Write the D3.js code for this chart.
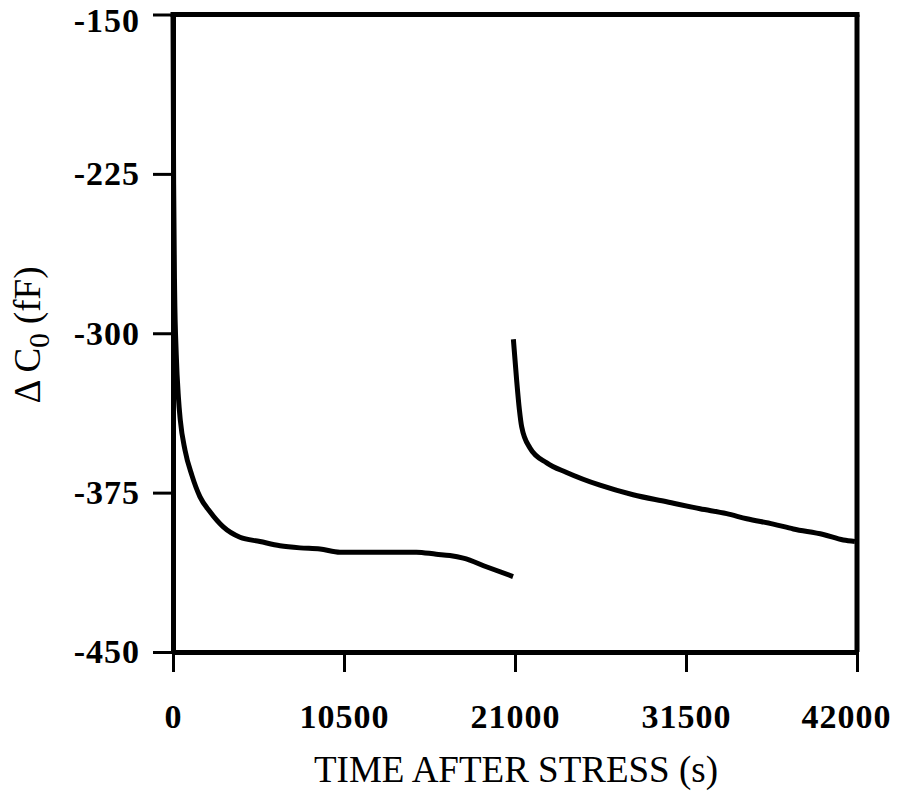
<!DOCTYPE html>
<html>
<head>
<meta charset="utf-8">
<script src="https://cdn.jsdelivr.net/npm/d3@7"></script>
<style>
  body { margin: 0; background: #fff; }
  svg { display: block; }
</style>
</head>
<body>
<script>
// donnees
var xTicks = [0, 10500, 21000, 31500, 42000];
var yTicks = [-150, -225, -300, -375, -450];

// premiere courbe (0 -> 21000 s)
var curve1 = [
  [0, -150], [40, -230], [100, -280], [200, -310], [330, -330], [450, -341],
  [737, -355], [1166, -367], [1658, -377], [2272, -384], [3070, -391],
  [4114, -396], [5342, -398], [6570, -400], [7798, -401], [9026, -401.5],
  [10254, -403], [11482, -403], [14940, -403], [16168, -404], [17000, -404.6],
  [17826, -405.8], [19280, -410], [20880, -414.5]
];

// deuxieme courbe (21000 -> 42000 s)
var curve2 = [
  [20900, -302.8], [21100, -322], [21270, -336], [21410, -344], [21920, -354],
  [22950, -361], [24170, -365.5], [26220, -371.5], [28250, -376],
  [30310, -379.3], [32360, -382.6], [34000, -384.9],
  [35230, -387.3], [36860, -389.8], [38090, -392.1], [39930, -394.7],
  [41160, -397.3], [41870, -398]
];

var W = 909, H = 791;
var margin = {top: 14.5, left: 173, right: 909 - 857, bottom: 791 - 652};
var width = W - margin.left - margin.right,
    height = H - margin.top - margin.bottom;

var svg = d3.select("body").append("svg")
    .attr("width", W)
    .attr("height", H);

var g = svg.append("g")
    .attr("transform", "translate(" + margin.left + "," + margin.top + ")");

var x = d3.scaleLinear().domain([0, 42000]).range([0, width]);
var y = d3.scaleLinear().domain([-450, -150]).range([height, 0]);

var serif = "'Liberation Serif', 'Times New Roman', Times, serif";

// courbes
var line = d3.line()
    .x(function(d) { return x(d[0]); })
    .y(function(d) { return y(d[1]); })
    .curve(d3.curveMonotoneX);

[curve1, curve2].forEach(function(c) {
  g.append("path")
      .datum(c)
      .attr("fill", "none")
      .attr("stroke", "#000")
      .attr("stroke-width", 5)
      .attr("stroke-linecap", "butt")
      .attr("d", line);
});

// axes (tiret simple comme sur la figure)
var fmt = function(d) { return String(d); };

var xAxis = g.append("g")
    .attr("transform", "translate(0," + height + ")")
    .call(d3.axisBottom(x).tickValues(xTicks).tickSize(20).tickSizeOuter(0).tickPadding(32).tickFormat(fmt));

var yAxis = g.append("g")
    .call(d3.axisLeft(y).tickValues(yTicks).tickSize(20).tickSizeOuter(0).tickPadding(13).tickFormat(fmt));

[xAxis, yAxis].forEach(function(a) {
  a.select(".domain").attr("stroke-width", 5);
  a.selectAll(".tick line").attr("stroke-width", 3);
  a.selectAll("text")
      .style("font-family", serif)
      .style("font-weight", "bold")
      .style("font-size", "34px")
      .style("letter-spacing", "1px")
      .attr("fill", "#000");
});

// dernier label decale comme sur la figure
xAxis.selectAll(".tick text").filter(function(d) { return d === 42000; })
    .attr("dx", -11);
// premier label de l'axe y un peu plus bas pour rester dans l'image
yAxis.selectAll(".tick text").filter(function(d) { return d === -150; })
    .attr("dy", "0.5em");

// cadre haut et droite
g.append("line")
    .attr("x1", -2.5).attr("x2", width + 2.5)
    .attr("y1", 0).attr("y2", 0)
    .attr("stroke", "#000").attr("stroke-width", 5);
g.append("line")
    .attr("x1", width).attr("x2", width)
    .attr("y1", 0).attr("y2", height)
    .attr("stroke", "#000").attr("stroke-width", 5);

// titres
svg.append("text")
    .attr("x", 516)
    .attr("y", 782)
    .attr("text-anchor", "middle")
    .style("font-family", serif)
    .style("font-size", "37px")
    .text("TIME AFTER STRESS (s)");

var yt = svg.append("text")
    .attr("transform", "translate(40,335) rotate(-90)")
    .attr("text-anchor", "middle")
    .style("font-family", serif)
    .style("font-size", "37px");
yt.append("tspan").text("\u0394 C");
yt.append("tspan").attr("dy", 9).style("font-size", "29px").text("0");
yt.append("tspan").attr("dy", -9).text("  (fF)");
</script>
</body>
</html>
